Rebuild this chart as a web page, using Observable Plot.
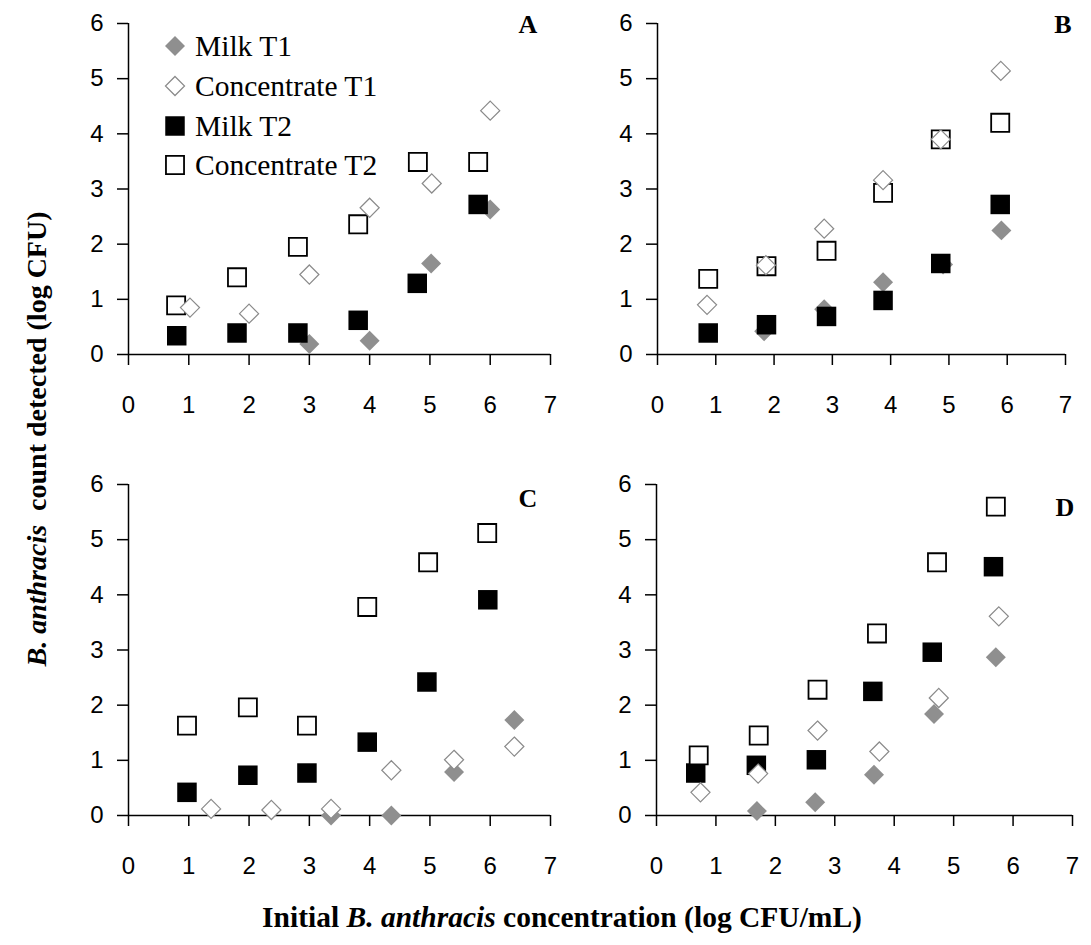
<!DOCTYPE html>
<html>
<head>
<meta charset="utf-8">
<script src="https://cdn.jsdelivr.net/npm/d3@7"></script>
<script src="https://cdn.jsdelivr.net/npm/@observablehq/plot@0.6"></script>
<style>
  html, body { margin: 0; padding: 0; background: #fff; }
  #wrap { position: relative; width: 1091px; height: 945px; overflow: hidden; background: #fff; }
  #wrap > .panel { position: absolute; }
  #overlay { position: absolute; left: 0; top: 0; pointer-events: none; }
</style>
</head>
<body>
<div id="wrap"></div>
<script>
// ---------------- data ----------------
const seriesNames = ["Milk T1", "Concentrate T1", "Milk T2", "Concentrate T2"];
const panelLetters = ["A", "B", "C", "D"];
const xTicks = [0, 1, 2, 3, 4, 5, 6, 7];
const yTicks = [0, 1, 2, 3, 4, 5, 6];

// Panel A
const A_milkT1_x = [3.0, 4.0, 5.02, 6.0];
const A_milkT1_y = [0.19, 0.25, 1.65, 2.63];
const A_concT1_x = [1.02, 2.0, 3.0, 4.0, 5.03, 6.0];
const A_concT1_y = [0.85, 0.74, 1.45, 2.66, 3.10, 4.42];
const A_milkT2_x = [0.80, 1.80, 2.81, 3.81, 4.79, 5.80];
const A_milkT2_y = [0.34, 0.39, 0.39, 0.62, 1.29, 2.72];
const A_concT2_x = [0.79, 1.80, 2.81, 3.81, 4.80, 5.80];
const A_concT2_y = [0.89, 1.40, 1.95, 2.36, 3.49, 3.49];

// Panel B
const B_milkT1_x = [1.83, 2.86, 3.87, 4.90, 5.90];
const B_milkT1_y = [0.42, 0.82, 1.31, 1.63, 2.25];
const B_concT1_x = [0.85, 1.86, 2.86, 3.87, 4.86, 5.89];
const B_concT1_y = [0.90, 1.62, 2.28, 3.16, 3.90, 5.14];
const B_milkT2_x = [0.87, 1.87, 2.90, 3.87, 4.86, 5.88];
const B_milkT2_y = [0.39, 0.54, 0.69, 0.98, 1.65, 2.72];
const B_concT2_x = [0.87, 1.87, 2.90, 3.87, 4.86, 5.88];
const B_concT2_y = [1.37, 1.60, 1.88, 2.93, 3.90, 4.20];

// Panel C
const C_milkT1_x = [3.36, 4.36, 5.40, 6.40];
const C_milkT1_y = [0.0, 0.0, 0.79, 1.73];
const C_concT1_x = [1.37, 2.37, 3.36, 4.36, 5.40, 6.40];
const C_concT1_y = [0.12, 0.10, 0.12, 0.82, 1.01, 1.25];
const C_milkT2_x = [0.97, 1.98, 2.96, 3.96, 4.95, 5.96];
const C_milkT2_y = [0.42, 0.73, 0.77, 1.33, 2.42, 3.91];
const C_concT2_x = [0.97, 1.98, 2.96, 3.96, 4.97, 5.95];
const C_concT2_y = [1.63, 1.96, 1.63, 3.78, 4.59, 5.12];

// Panel D
const D_milkT1_x = [1.69, 2.67, 3.66, 4.67, 5.71];
const D_milkT1_y = [0.08, 0.24, 0.74, 1.84, 2.87];
const D_concT1_x = [0.74, 1.71, 2.71, 3.75, 4.75, 5.76];
const D_concT1_y = [0.42, 0.76, 1.54, 1.16, 2.13, 3.61];
const D_milkT2_x = [0.66, 1.68, 2.69, 3.64, 4.64, 5.67];
const D_milkT2_y = [0.77, 0.91, 1.01, 2.25, 2.96, 4.51];
const D_concT2_x = [0.71, 1.72, 2.71, 3.71, 4.72, 5.71];
const D_concT2_y = [1.09, 1.45, 2.28, 3.30, 4.59, 5.60];

// ---------------- build ----------------
const zip = (xs, ys) => xs.map((x, i) => ({x, y: ys[i]}));
const panelsData = [
  {milkT1: zip(A_milkT1_x, A_milkT1_y), concT1: zip(A_concT1_x, A_concT1_y), milkT2: zip(A_milkT2_x, A_milkT2_y), concT2: zip(A_concT2_x, A_concT2_y)},
  {milkT1: zip(B_milkT1_x, B_milkT1_y), concT1: zip(B_concT1_x, B_concT1_y), milkT2: zip(B_milkT2_x, B_milkT2_y), concT2: zip(B_concT2_x, B_concT2_y)},
  {milkT1: zip(C_milkT1_x, C_milkT1_y), concT1: zip(C_concT1_x, C_concT1_y), milkT2: zip(C_milkT2_x, C_milkT2_y), concT2: zip(C_concT2_x, C_concT2_y)},
  {milkT1: zip(D_milkT1_x, D_milkT1_y), concT1: zip(D_concT1_x, D_concT1_y), milkT2: zip(D_milkT2_x, D_milkT2_y), concT2: zip(D_concT2_x, D_concT2_y)}
];

const GRAY_FILL = "#8f8f8f";
const GRAY_STROKE = "#8a8a8a";

const layouts = [
  {left: 0,   top: 0,   width: 560, height: 430, ml: 128, mr: 10, mt: 23, mb: 76},
  {left: 540, top: 0,   width: 551, height: 430, ml: 117, mr: 26, mt: 23, mb: 76},
  {left: 0,   top: 460, width: 560, height: 470, ml: 128, mr: 10, mt: 24, mb: 115},
  {left: 540, top: 460, width: 551, height: 470, ml: 116, mr: 19, mt: 24, mb: 115}
];

const wrap = document.getElementById("wrap");

panelsData.forEach((d, i) => {
  const L = layouts[i];
  const chart = Plot.plot({
    width: L.width,
    height: L.height,
    marginLeft: L.ml,
    marginRight: L.mr,
    marginTop: L.mt,
    marginBottom: L.mb,
    style: {fontFamily: "'Liberation Sans', 'DejaVu Sans', sans-serif", color: "#000", background: "transparent", overflow: "visible"},
    x: {domain: [0, 7]},
    y: {domain: [0, 6]},
    marks: [
      Plot.axisY({ticks: yTicks, tickSize: 11, tickPadding: 14, tickFormat: d => String(d), fontSize: 24, strokeWidth: 1.5, label: null}),
      Plot.axisX({ticks: xTicks, tickSize: 11, tickPadding: 30, tickFormat: d => String(d), fontSize: 24, strokeWidth: 1.5, label: null}),
      Plot.ruleX([0], {y1: 0, y2: 6, stroke: "#000", strokeWidth: 1.5}),
      Plot.ruleY([0], {x1: 0, x2: 7, stroke: "#000", strokeWidth: 1.5}),
      Plot.dot(d.milkT1, {x: "x", y: "y", symbol: "diamond2", r: 9, fill: GRAY_FILL, stroke: "none"}),
      Plot.dot(d.milkT2, {x: "x", y: "y", symbol: "square", r: 11, fill: "#000", stroke: "none"}),
      Plot.dot(d.concT2, {x: "x", y: "y", symbol: "square", r: 10.2, fill: "#fff", stroke: "#000", strokeWidth: 1.8}),
      Plot.dot(d.concT1, {x: "x", y: "y", symbol: "diamond2", r: 8.6, fill: "#fff", stroke: GRAY_STROKE, strokeWidth: 1.2})
    ]
  });
  chart.classList.add("panel");
  chart.style.left = L.left + "px";
  chart.style.top = L.top + "px";
  wrap.appendChild(chart);
});

// ---------------- overlay text: titles, panel letters, legend ----------------
const ov = d3.select(wrap).append("svg")
  .attr("id", "overlay").attr("width", 1091).attr("height", 945);

const letterPos = [[528, 24], [1063, 24], [528, 498], [1065, 507]];
panelLetters.forEach((t, i) => {
  ov.append("text").attr("x", letterPos[i][0]).attr("y", letterPos[i][1])
    .attr("text-anchor", "middle").attr("dominant-baseline", "central")
    .attr("font-family", "'Liberation Serif', 'DejaVu Serif', serif")
    .attr("font-weight", "bold").attr("font-size", 26).text(t);
});

// legend
const legendRows = [
  {name: seriesNames[0], sym: d3.symbolDiamond2, r: 9, fill: GRAY_FILL, stroke: "none", sw: 0},
  {name: seriesNames[1], sym: d3.symbolDiamond2, r: 8.6, fill: "#fff", stroke: GRAY_STROKE, sw: 1.2},
  {name: seriesNames[2], sym: d3.symbolSquare, r: 11, fill: "#000", stroke: "none", sw: 0},
  {name: seriesNames[3], sym: d3.symbolSquare, r: 10.2, fill: "#fff", stroke: "#000", sw: 1.8}
];
const legY = [46, 86, 126, 165];
legendRows.forEach((row, i) => {
  const g = ov.append("g").attr("transform", `translate(175,${legY[i]})`);
  g.append("path").attr("d", d3.symbol(row.sym, Math.PI * row.r * row.r)())
    .attr("fill", row.fill).attr("stroke", row.stroke).attr("stroke-width", row.sw);
  g.append("text").attr("x", 20).attr("y", 0).attr("dominant-baseline", "central")
    .attr("font-family", "'Liberation Serif', 'DejaVu Serif', serif")
    .attr("font-size", 29.5).text(row.name);
});

// y axis title
const yt = ov.append("text")
  .attr("transform", "translate(36,439) rotate(-90)")
  .attr("text-anchor", "middle").attr("dominant-baseline", "central")
  .attr("font-family", "'Liberation Serif', 'DejaVu Serif', serif")
  .attr("font-weight", "bold").attr("font-size", 28);
yt.append("tspan").attr("font-style", "italic").text("B. anthracis");
yt.append("tspan").text("\u00a0 count detected (log CFU)");

// x axis title
const xt = ov.append("text")
  .attr("x", 562).attr("y", 917)
  .attr("text-anchor", "middle").attr("dominant-baseline", "central")
  .attr("font-family", "'Liberation Serif', 'DejaVu Serif', serif")
  .attr("font-weight", "bold").attr("font-size", 29.5);
xt.append("tspan").text("Initial ");
xt.append("tspan").attr("font-style", "italic").text("B. anthracis");
xt.append("tspan").text(" concentration (log CFU/mL)");
</script>
</body>
</html>
